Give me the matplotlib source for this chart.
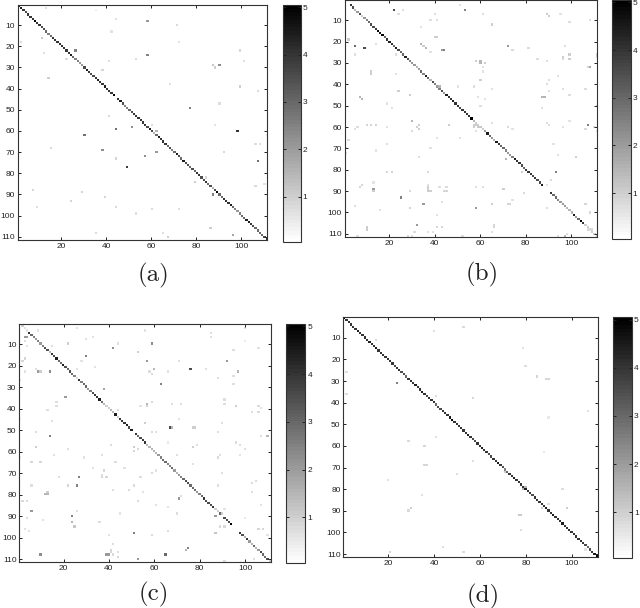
import numpy as np
import matplotlib
matplotlib.use('Agg')
import matplotlib.pyplot as plt

plt.rcParams['font.family'] = ['Liberation Sans', 'DejaVu Sans']

# diagonal values, entry 1 to 111 of each matrix
diag_a = [4.5,4.5,4,3.5,4,4,4,5,4,4, 3.5,3.5,3,2.5,3,4,4,4,4,4, 4,4,4,4.5,3,2.5,2.5,2,2,3.5,
          4.5,4,3.5,3.5,4,4.5,4,4,4.5,4, 4,4,5,0,4,4.5,3.5,2.5,2.5,3, 3.5,4,4,4,4,4,4,3.5,4.5,3.5,
          1.5,3,4.5,4,4,4,3,3.5,2.5,3, 4.5,3.5,3,4.5,3.5,3.5,3,3.5,3,4, 4,3.5,3.5,4,3,3.5,1.5,3.5,5,3,
          3,4,4,4,4.5,3,2.5,2,2.5,3, 3,4.5,4.5,4,3.5,3,3,3,3,3.5,4]
diag_b = [0,0,4,3.5,1.5,2,3.5,1,2,2.5, 3,3.5,3.5,4,5,4.5,5,3,4,4.5, 4,3,4.5,3.5,3,3,4.5,3.5,2.5,2,
          2,1.5,2,3,2.5,4.5,3,1.5,3.5,2.5, 2,2.5,3.5,2,4.5,4,4,4.5,4,4, 3.5,4,4,4,4,5,1.5,1,1,1.2,
          1,2,4.5,3,2,1.5,4.5,4,3,3, 2.5,2,2,2.5,4.5,4,4,3.5,3,4, 4,4,3.5,4,3.5,3.5,4.5,0,0,0,
          4,3,3,2.5,2,2,2,1.5,1.5,1.5, 4.5,2,3,5,4,1,1,1,1,1,1]
diag_c = [1,1,.6,.6,4,3,2.5,2,2.5,2, 2.5,3.5,3.5,1.5,4,3.5,4.5,3,3,4.5, 3.5,3,3.5,3,2.5,.8,4,2.5,3,3,
          2,2.5,3.5,4,4,4.5,3,1.5,1,1, 1.5,1.5,4.5,1,4,4,4,4.5,3.5,4.5, 0,4,3,3.5,4,4,1.5,1.5,1.5,1.5,
          1.5,2,2.5,3,3,2.5,2.5,3,2,1.5, 2,2.5,3,3.5,3.5,3,3,3,2,2.5, 3,4,3.5,3.5,3.5,4,1,1,3,0,
          3.5,3.5,3.5,5,0,0,0,4,3.5,1.5, 4,2,1.5,3,1.5,2,3.5,3,3,3.5,1]
diag_d = [5,4,4,4,4,4,4.5,4,4,4, 4,4.5,4,4,4.5,4,4,4,4,4, 4,4,3.5,4,4,3.5,3.5,3,4,4,
          4,4.5,4,4,4.5,4,3.5,4,4,4, 3,3.5,3.5,4,4,4,4.5,5,4,4, 4,4,4,4,4.5,4,3.5,3.5,4,4,
          4.5,4,4,3.5,3.5,4,4,4.5,4,3.5, 2.5,3,4,4,4.5,4,4,4,4,4.5, 4,4,3.5,4,4,4,4,4,4.5,4,
          4,4.5,4,4,4,4.5,4,4,4,4, 4,4,4,4,4,3.5,3,3.5,4,4.5,5]

# off diagonal entries (column, row, value)
points_a = [(13,2,.7),(35,3,.4),(44,7,.6),(58,8,2),(71,10,.8),(42,13,.6),(11,16,1.1),(72,18,.6),(2,18,.8),
            (99,22,.9),(26,22,2.5),(12,23,.7),(58,24,2.5),(22,26,.8),(53,26,.7),(41,27,.7),(101,27,.7),
            (87,29,1.2),(88,30,1),(90,29,2.3),(38,31,.9),(14,35,1),(68,38,.6),(99,39,1),(107,41,.8),(90,47,.7),
            (77,49,2.5),(41,53,.8),(88,57,.6),(60,57,.7),(51,58,2.3),(44,59,2.8),(62,60,1.5),(98,60,4),(30,62,2.8),
            (111,62,.5),(106,66,.7),(108,66,.7),(15,68,.8),(38,69,2.3),(62,70,2),(92,70,.9),(57,72,2.3),(44,73,.9),
            (107,74,2.8),(49,77,3.8),(79,84,1),(84,82,.9),(110,85,.6),(106,86,.8),(7,88,.9),(29,89,.9),(87,90,2.5),
            (39,91,.9),(24,93,.9),(9,96,.7),(44,96,.8),(60,97,.7),(72,97,.7),(53,99,.7),(86,106,1),(35,108,.7),
            (65,108,.7),(67,110,1),(96,109,1.8)]
points_b = [(22,5,3.5),(24,7,.7),(26,5,.7),(53,5,2.5),(51,3,.6),(40,7,.7),(38,10,.7),(41,10,.7),(61,7,.7),(65,12,1),
            (89,7,1),(90,8,1),(95,7,.6),(99,11,.7),(108,10,.7),(34,13,.6),(40,18,1),(41,18,1),(34,21,1.5),(35,22,1),
            (36,23,1.5),(38,25,.6),(44,24,2.5),(43,24,2),(72,22,2),(74,24,.8),(81,23,.8),(97,22,.7),(5,22,3),(9,23,3.5),
            (5,26,.7),(2,19,1),(14,21,.7),(23,26,.7),(58,29,1),(60,29,1.5),(60,30,1.5),(62,30,1),(85,28,.7),(89,29,.7),
            (96,27,1),(96,28,.8),(99,26,1),(99,28,1),(111,26,1),(111,27,.8),(107,32,.9),(108,32,1.8),(61,32,.6),(61,34,.6),
            (12,34,1),(12,35,1),(23,35,.6),(60,38,1),(94,36,.6),(90,38,.7),(89,40,.7),(42,41,1.5),(57,41,.7),(50,41,.6),
            (24,43,1),(65,42,.6),(90,43,.7),(96,42,.7),(106,42,.7),(29,45,1),(99,45,.7),(7,46,1.5),(8,47,1.5),(59,46,.6),
            (62,47,.6),(88,46,1.5),(87,46,1.5),(60,50,.7),(19,49,.6),(21,51,.6),(87,51,.6),(111,50,1),(30,57,1.5),(33,59,1),
            (32,60,1),(33,61,1),(30,62,.8),(6,60,.7),(5,61,.7),(10,59,.9),(12,59,.9),(14,59,.9),(19,60,.6),(46,59,1),
            (57,59,1),(58,59,1),(57,60,1),(58,58,1),(59,60,1),(58,62,.6),(65,58,.7),(72,60,.8),(74,61,.6),(89,58,.8),
            (90,59,.7),(96,60,.6),(99,57,.6),(107,59,2.5),(106,61,.8),(110,60,.7),(111,62,.7),(41,65,.6),(51,65,.6),(2,66,.7),
            (19,68,.7),(1,70,.6),(1,72,.6),(14,71,.6),(38,70,.6),(92,68,.6),(94,73,.6),(33,74,.7),(102,74,1),(71,75,1.5),
            (37,81,.8),(19,81,.9),(21,81,.9),(78,81,1),(93,81,2.5),(91,85,.8),(89,87,.6),(7,88,.9),(8,87,.9),(13,86,.6),
            (13,89,2),(13,90,1),(37,87,.6),(37,88,1),(37,89,1),(37,90,1),(38,90,1),(42,88,.7),(45,88,.7),(44,90,.9),
            (45,90,.9),(58,88,.7),(61,88,.7),(70,89,1),(29,90,.8),(79,91,.8),(74,94,.6),(25,93,2.5),(43,95,.6),(35,96,2),
            (65,96,1),(72,96,.9),(73,96,.9),(106,96,.9),(5,97,.7),(16,99,.6),(29,98,.9),(58,98,2),(89,98,.7),(108,100,.9),
            (41,101,.6),(32,106,2),(31,109,.8),(10,107,1),(10,108,1),(28,111,.8),(30,111,.8),(37,109,.6),(39,109,.6),(41,107,.9),
            (43,107,.9),(65,109,.7),(66,106,.9),(66,107,.9),(52,111,.7),(6,111,.7),(94,111,.7),(97,111,1.5),(98,110,.7),(107,108,.8),
            (108,108,.8),(109,108,.8)]
points_c = [(3,7,2),(4,7,2),(3,9,.7),(4,11,.6),(9,4,.6),(22,10,1),(30,8,.6),(33,7,.6),(26,3,.6),(13,1,.6),(29,1,.6),(15,11,.7),
            (44,10,.7),(42,12,2.3),(30,16,2.5),(53,14,1),(59,10,2.3),(56,4,.6),(85,5,.7),(85,7,.7),(100,3,.6),(100,9,.5),
            (95,13,.7),(106,12,.6),(2,18,.9),(3,17,.9),(28,18,.6),(57,18,2),(71,18,.7),(92,18,2),(3,23,.6),(8,22,.7),(9,23,2),
            (10,23,1),(14,23,2.3),(26,22,.6),(34,21,.6),(60,22,1.5),(58,23,.7),(59,24,.8),(66,23,.6),(76,22,3.5),(83,22,.6),
            (97,23,1.5),(95,25,.7),(1,27,.6),(63,29,2.5),(88,26,.7),(95,29,.7),(38,31,1.8),(21,35,2),(91,36,.7),(91,38,.7),
            (17,37,.7),(17,39,.7),(54,39,.6),(57,39,.9),(57,38,1.5),(59,37,.8),(68,38,.7),(72,38,.7),(96,39,1),(106,39,.8),
            (107,40,.6),(103,42,.7),(106,42,.8),(13,41,.7),(44,41,.7),(15,46,.7),(1,45,.5),(71,45,.6),(56,47,1),(90,47,.7),
            (67,49,3.5),(68,49,1.5),(77,49,1),(78,49,1),(8,51,.7),(59,51,.8),(61,51,.7),(88,51,.7),(14,53,2.5),(107,53,.7),
            (110,53,1.5),(8,58,1),(41,57,.8),(51,58,1),(51,60,.9),(53,59,.8),(66,56,.5),(77,58,1),(79,57,.7),(96,56,.7),
            (98,57,.7),(100,59,.7),(22,59,.7),(16,62,.6),(29,63,.6),(37,62,.7),(70,62,.7),(89,62,.7),(88,63,.8),(98,62,.6),
            (1,63,.5),(6,65,.9),(10,65,.9),(43,65,.7),(38,69,.9),(37,71,.7),(37,72,.9),(39,72,.9),(18,72,.7),(27,72,2.5),
            (33,68,.6),(47,68,.6),(59,70,.7),(61,69,.6),(54,72,.7),(90,70,.7),(88,76,.7),(77,66,.6),(22,76,.9),(26,76,2.5),
            (6,76,.7),(12,80,1.5),(13,79,1),(13,80,1.5),(42,78,.7),(49,78,.8),(51,76,.8),(55,79,.6),(72,81,.7),(71,82,2),
            (103,75,.7),(105,74,.7),(103,79,.7),(2,83,.8),(4,83,.8),(53,83,.8),(61,85,.6),(66,86,.6),(107,85,.6),(6,88,2),
            (26,88,.7),(45,89,.6),(70,89,.7),(91,87,.6),(87,90,2),(24,90,2.5),(4,91,.7),(11,92,.6),(90,89,1),(24,93,1.5),
            (25,95,1.2),(36,93,.7),(100,91,.5),(89,95,.8),(91,95,.8),(3,96,.6),(5,97,.6),(66,97,.7),(51,98,2.5),(87,98,1.2),
            (106,96,.9),(108,96,.9),(59,99,.7),(40,99,.6),(110,99,.6),(42,103,.7),(75,105,2.5),(74,106,1.5),(10,108,2.3),(39,108,2),
            (40,108,2),(41,107,.9),(41,106,.9),(42,108,.8),(65,108,3),(44,107,.7),(44,109,.9),(53,110,2),(91,111,.7),(104,110,.7)]
points_d = [(40,7,.7),(53,5,.8),(15,11,.8),(79,15,.6),(80,23,.7),(2,26,.7),(24,31,2.5),(85,28,.9),(89,29,.9),(90,29,.9),
            (2,36,.7),(41,37,.7),(57,38,.9),(107,44,.6),(90,47,.5),(41,56,.6),(29,58,.8),(36,60,.9),(88,63,.5),(57,67,.7),
            (36,69,.9),(37,69,.9),(50,73,.7),(20,76,.6),(96,80,.7),(35,83,.6),(90,87,.6),(29,90,.8),(30,89,1),(87,89,1),
            (98,89,1),(77,92,1.1),(78,92,1.1),(78,99,.7),(44,107,.7),(53,109,.8),(21,109,.9),(106,108,.6),(80,79,1.5),(79,80,1.5),
            (71,72,1)]

xticks = [20,40,60,80,100]
yticks = [10,20,30,40,50,60,70,80,90,100,110]
cbar_ticks = [1,2,3,4,5]
labels = ['(a)','(b)','(c)','(d)']

W = 640.0
H = 608.0

def add_ax(fig,l,r,t,b):
    return fig.add_axes([l/W,1-b/H,(r-l)/W,(b-t)/H])

def panel(fig,diag,points,box,cbox,label,lab_x,lab_y):
    m = np.zeros((111,111))
    for i in range(111):
        m[i,i] = diag[i]
    for x,y,v in points:
        m[y-1,x-1] = v

    ax = add_ax(fig,*box)
    im = ax.imshow(m,cmap=plt.get_cmap('gray_r',64),vmin=0.04,vmax=5.05,aspect='auto',
                   interpolation='nearest',extent=[0.5,111.5,111.5,0.5])
    ax.set_xticks(xticks)
    ax.set_yticks(yticks)
    ax.tick_params(direction='in',top=True,right=True,length=2.5,width=0.7,labelsize=6,pad=2,colors='#222222')
    for s in ax.spines.values():
        s.set_linewidth(0.8)
        s.set_color('#333333')

    cax = add_ax(fig,*cbox)
    cb = fig.colorbar(im,cax=cax)
    cb.set_ticks(cbar_ticks)
    cax.tick_params(direction='in',left=True,right=True,length=2.5,width=0.7,labelsize=6,pad=1.5,colors='#222222')
    cb.outline.set_linewidth(0.8)
    cb.outline.set_edgecolor('#333333')

    fig.text(lab_x/W,1-lab_y/H,label,family='cmr10',fontsize=18,ha='center',va='center',color='#222222')

fig = plt.figure(figsize=(6.4,6.08),dpi=100)

panel(fig,diag_a,points_a,(17.5,267,5,240),(282.7,300.7,5,242),labels[0],154,275)
panel(fig,diag_b,points_b,(344.7,597.3,0,237),(612.3,630.7,0,239),labels[1],482,274)
panel(fig,diag_c,points_c,(19.3,271.3,324,562.3),(286.3,305.3,324,563.3),labels[2],154,594)
panel(fig,diag_d,points_d,(343.3,598.3,317.3,557.3),(612.7,632,317.3,558.3),labels[3],483,596)

fig.savefig('out.png',dpi=100)
